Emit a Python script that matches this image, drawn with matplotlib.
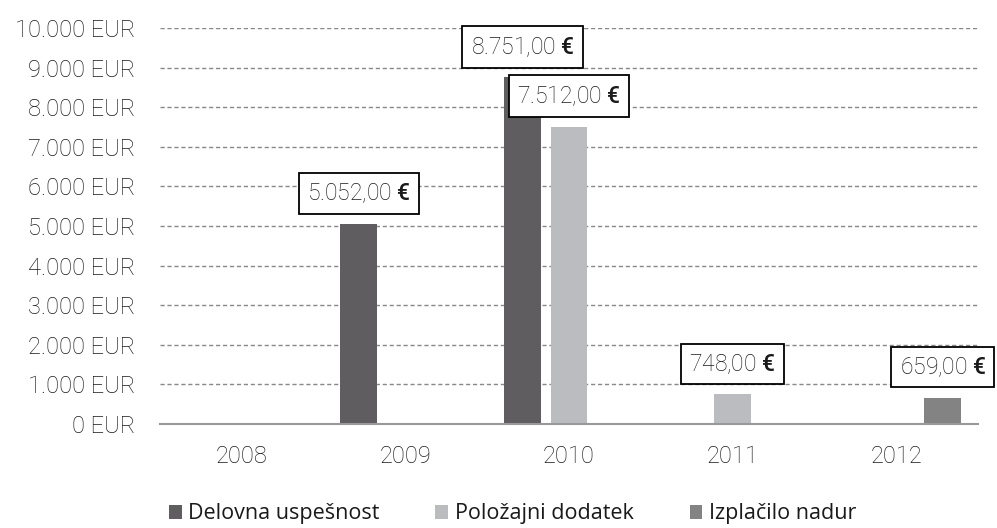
import numpy as np
import matplotlib
matplotlib.use("Agg")
import matplotlib.pyplot as plt

plt.rcParams['font.family'] = ['Roboto', 'DejaVu Sans']
plt.rcParams['mathtext.fontset'] = 'custom'
plt.rcParams['mathtext.rm'] = 'Roboto:light'
plt.rcParams['mathtext.bf'] = 'Roboto:medium'

# data
years = ["2008", "2009", "2010", "2011", "2012"]
delovna = [0, 5052, 8751, 0, 0]
polozajni = [0, 0, 7512, 748, 0]
izplacilo = [0, 0, 0, 0, 659]
series_names = ["Delovna uspešnost", "Položajni dodatek", "Izplačilo nadur"]
colors = ["#5f5d60", "#bbbcbf", "#838383"]

def eur(v):
    s = f"{v:,.2f}".replace(",", " ").replace(".", ",").replace(" ", ".")
    return s + r" $\mathbf{€}$"

fig = plt.figure(figsize=(9.97, 5.28), dpi=100)
ax = fig.add_axes([0.1605, 0.197, 0.8205, 0.75])

x = np.arange(len(years))
w = 0.225
offs = [-0.285, 0.0, 0.285]
for vals, name, col, o in zip([delovna, polozajni, izplacilo], series_names, colors, offs):
    ax.bar(x + o, vals, width=w, color=col, label=name, zorder=2)
    for xi, v in zip(x, vals):
        if v > 0:
            ax.annotate(eur(v), (xi + o, v), xytext=(0, 22), textcoords="offset points",
                        ha="center", va="center", fontsize=16.5, fontweight="light",
                        color="#1a1a1a", zorder=5,
                        bbox=dict(boxstyle="square,pad=0.36", fc="white", ec="black", lw=1.3))

ax.set_xlim(-0.5, 4.5)
ax.set_ylim(0, 10000)
yt = np.arange(0, 10001, 1000)
ax.set_yticks(yt)
ax.set_yticklabels([f"{v:,}".replace(",", ".") + " EUR" for v in yt],
                   fontsize=17, fontweight="light", color="#1a1a1a")
ax.set_xticks(x)
ax.set_xticklabels(years, fontsize=17, fontweight="light", color="#1a1a1a")
ax.tick_params(axis="both", length=0)
ax.tick_params(axis="x", pad=15)
ax.tick_params(axis="y", pad=18)
ax.grid(axis="y", color="#888888", linestyle=(0, (3, 2)), linewidth=1.0, zorder=0)
for s in ["top", "right", "left"]:
    ax.spines[s].set_visible(False)
ax.spines["bottom"].set_color("#999999")
ax.spines["bottom"].set_linewidth(1.5)

fig.legend(loc="lower center", bbox_to_anchor=(0.514, -0.03), ncol=3, frameon=False,
           prop={'family': 'Open Sans', 'size': 15.5}, labelcolor="#1a1a1a",
           handlelength=0.6, handleheight=0.6, handletextpad=0.3,
           columnspacing=2.6)

fig.savefig("out.png", dpi=100)
